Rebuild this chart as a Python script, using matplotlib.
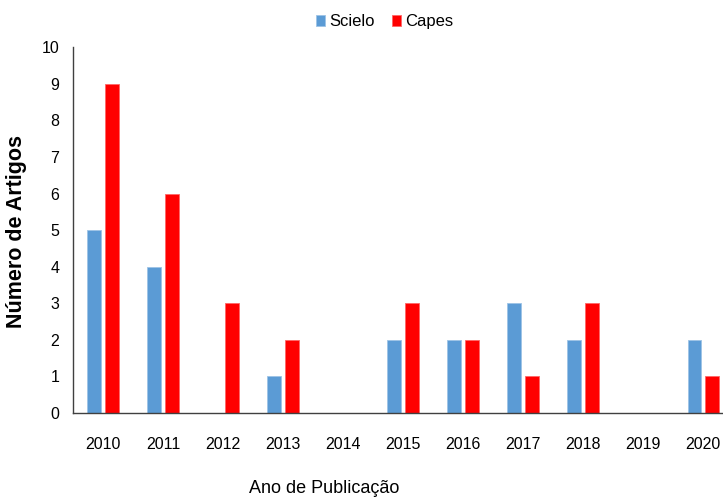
import numpy as np
import matplotlib
matplotlib.use("Agg")
import matplotlib.pyplot as plt

# data
anos = ["2010", "2011", "2012", "2013", "2014", "2015", "2016", "2017", "2018", "2019", "2020"]
scielo = [5, 4, 0, 1, 0, 2, 2, 3, 2, 0, 2]
capes = [9, 6, 3, 2, 0, 3, 2, 1, 3, 0, 1]

plt.rcParams['font.family'] = ['Liberation Sans', 'DejaVu Sans']

fig = plt.figure(figsize=(7.23, 4.97), dpi=100)
ax = fig.add_axes([0.101, 0.169, 0.913, 0.736])

x = np.arange(len(anos))
w = 0.23
ax.bar(x - 0.145, scielo, w, color="#5B9BD5", edgecolor="#9DC3E6", linewidth=0.6, label="Scielo")
ax.bar(x + 0.145, capes, w, color="#FF0000", edgecolor="#FF6666", linewidth=0.6, label="Capes")

ax.set_xlim(-0.5, 10.5)
ax.set_ylim(0, 10)
ax.set_yticks(range(0, 11))
ax.set_xticks(x)
ax.set_xticklabels(anos)
ax.tick_params(axis="both", length=0, labelsize=11.5)
ax.tick_params(axis="x", pad=17)
ax.tick_params(axis="y", pad=10)

for s in ["top", "right"]:
    ax.spines[s].set_visible(False)
for s in ["left", "bottom"]:
    ax.spines[s].set_color("#404040")
    ax.spines[s].set_linewidth(1.0)

ax.set_ylabel("Número de Artigos", fontsize=15.5, fontweight="bold")
ax.yaxis.set_label_coords(-0.07, 0.495)
ax.set_xlabel("Ano de Publicação", fontsize=13, va="top")
ax.xaxis.set_label_coords(0.38, -0.183)

ax.legend(loc="center", bbox_to_anchor=(0.472, 1.07), ncol=2, frameon=False,
          fontsize=12, handlelength=0.55, handleheight=0.6, handletextpad=0.25,
          columnspacing=1.0)

fig.savefig("out.png", dpi=100)
